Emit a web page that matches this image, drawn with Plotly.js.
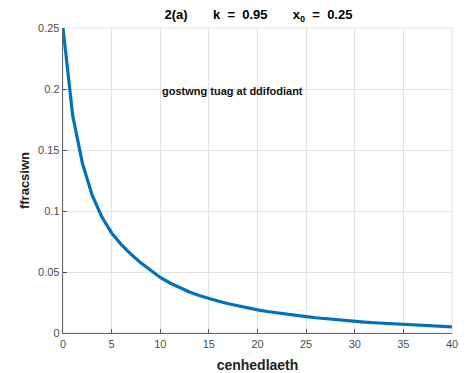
<!DOCTYPE html>
<html>
<head>
<meta charset="utf-8">
<script src="https://cdn.plot.ly/plotly-3.0.1.min.js"></script>
<style>html,body{margin:0;padding:0;background:#fff;}#chart{width:470px;height:373px;}</style>
</head>
<body>
<div id="chart"></div>
<script>
var generations = [0,1,2,3,4,5,6,7,8,9,10,11,12,13,14,15,16,17,18,19,20,21,22,23,24,25,26,27,28,29,30,31,32,33,34,35,36,37,38,39,40];
var fraction = [0.25,0.178,0.139,0.113,0.095,0.082,0.0725,0.0645,0.0575,0.0512,0.0455,0.041,0.037,0.0336,0.0307,0.0282,0.026,0.024,0.0222,0.0205,0.019,0.0176,0.0164,0.0153,0.0143,0.0134,0.0125,0.0117,0.0109,0.0102,0.0095,0.0089,0.0084,0.0079,0.0075,0.0071,0.0066,0.0062,0.0058,0.0054,0.005];
var xTicks = [0,5,10,15,20,25,30,35,40];
var yTicks = [0,0.05,0.1,0.15,0.2,0.25];
var yTickText = ['0','0.05','0.1','0.15','0.2','0.25'];
var sp = '\u00A0';
var titleText = '<b>2(a)' + sp.repeat(7) + 'k' + sp + sp + '=' + sp + sp + '0.95' + sp.repeat(7) + 'x<sub>0</sub>' + sp + sp + '=' + sp + sp + '0.25</b>';
var noteText = '<b>gostwng tuag at ddifodiant</b>';
var noteX = 10, noteY = 0.2;

var trace = {
  x: generations, y: fraction, type: 'scatter', mode: 'lines',
  line: {color: '#0072BD', width: 3.2}, hoverinfo: 'skip'
};
var fam = 'Arial, "Liberation Sans", Helvetica, sans-serif';
var layout = {
  width: 470, height: 373,
  margin: {l: 63, r: 18, t: 28, b: 40},
  paper_bgcolor: '#fff', plot_bgcolor: '#fff',
  showlegend: false,
  font: {family: fam, size: 11, color: '#4d4d4d'},
  title: {text: titleText, font: {family: fam, size: 13, color: '#000'}, x: 0.55, xanchor: 'center', y: 0.96, yanchor: 'middle'},
  xaxis: {
    range: [0, 40], tickvals: xTicks, ticktext: xTicks.map(String),
    ticks: 'inside', ticklen: 4, tickcolor: '#555', tickwidth: 1,
    showline: true, linecolor: '#666', linewidth: 1.3,
    showgrid: true, gridcolor: '#e3e3e3', gridwidth: 1, zeroline: false,
    tickfont: {size: 11, color: '#4d4d4d'},
    title: {text: '<b>cenhedlaeth</b>', font: {size: 14, color: '#222'}, standoff: 12}
  },
  yaxis: {
    range: [0, 0.25], tickvals: yTicks, ticktext: yTickText,
    ticks: 'inside', ticklen: 4, tickcolor: '#555', tickwidth: 1,
    showline: true, linecolor: '#666', linewidth: 1.3,
    showgrid: true, gridcolor: '#e3e3e3', gridwidth: 1, zeroline: false,
    tickfont: {size: 11, color: '#4d4d4d'},
    title: {text: '<b>ffracsiwn</b>', font: {size: 13, color: '#222'}, standoff: 5}
  },
  shapes: [{type: 'rect', xref: 'paper', yref: 'paper', x0: 0, x1: 1, y0: 0, y1: 1, line: {color: '#e3e3e3', width: 1}, layer: 'below'}],
  annotations: [{x: noteX, y: noteY, xref: 'x', yref: 'y', text: noteText, showarrow: false, xanchor: 'left', yanchor: 'middle', yshift: -2, font: {size: 11, color: '#111'}}]
};
Plotly.newPlot('chart', [trace], layout, {displayModeBar: false, staticPlot: true});
</script>
</body>
</html>
